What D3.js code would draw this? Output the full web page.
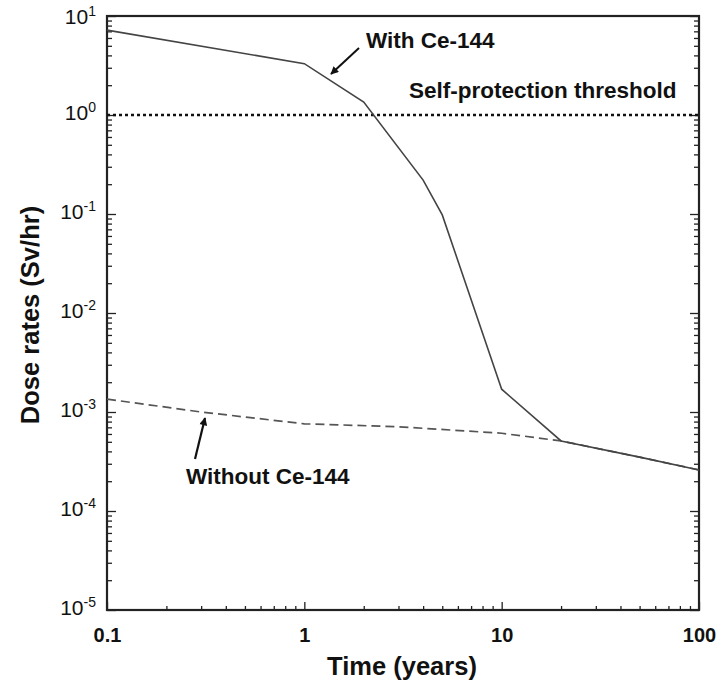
<!DOCTYPE html>
<html>
<head>
<meta charset="utf-8">
<script src="https://cdn.jsdelivr.net/npm/d3@7"></script>
<style>
  body { margin: 0; background: #fff; }
  svg { display: block; font-family: "Liberation Sans", Arial, Helvetica, sans-serif; }
</style>
</head>
<body>
<svg id="drawing_region"></svg>
<script>
// time (years) and dose rate (Sv/hr)
const timesWith = [0.1, 1, 2, 4, 5, 10, 20, 50, 100];
const doseWith = [7.2, 3.3, 1.35, 0.22, 0.098, 0.0017, 0.00051, 0.00035, 0.00026];

const timesWithout = [0.1, 0.3, 1, 3, 10, 20, 50, 100];
const doseWithout = [0.00135, 0.001, 0.00076, 0.00071, 0.00061, 0.00051, 0.00035, 0.00026];

const threshold = 1;

const xTicks = [0.1, 1, 10, 100];
const xTickLabels = ["0.1", "1", "10", "100"];
const yExponents = [1, 0, -1, -2, -3, -4, -5];

var config = {
    parent: '#drawing_region',
    width: 721,
    height: 682,
    margin: {top: 16, right: 22, bottom: 72, left: 107}
};

const svg = d3.select(config.parent)
    .attr('width', config.width)
    .attr('height', config.height);

const inner_width = config.width - config.margin.left - config.margin.right;
const inner_height = config.height - config.margin.top - config.margin.bottom;

const chart = svg.append('g')
    .attr('transform', `translate(${config.margin.left}, ${config.margin.top})`);

const xscale = d3.scaleLog().domain([0.1, 100]).range([0, inner_width]);
const yscale = d3.scaleLog().domain([1e-5, 10]).range([inner_height, 0]);

// minor ticks, 2..9 in each decade
const xMinor = [];
[0.1, 1, 10].forEach(d => { for (let k = 2; k < 10; k++) xMinor.push(d * k); });
const yMinor = [];
yExponents.slice(1).forEach(e => { for (let k = 2; k < 10; k++) yMinor.push(Math.pow(10, e) * k); });
const yMajor = yExponents.map(e => Math.pow(10, e));

const axisColor = '#222';

function styleAxis(g) {
    g.select('.domain').remove();
    g.selectAll('.tick line').attr('stroke', axisColor).attr('stroke-width', 1.3);
}

// bottom axis
chart.append('g')
    .attr('transform', `translate(0, ${inner_height})`)
    .call(d3.axisBottom(xscale).tickValues(xMinor).tickSize(-4).tickFormat(''))
    .call(styleAxis);

chart.append('g')
    .attr('transform', `translate(0, ${inner_height})`)
    .call(d3.axisBottom(xscale).tickValues(xTicks).tickSize(-8).tickPadding(18)
        .tickFormat((d, i) => xTickLabels[i]))
    .call(styleAxis)
    .call(g => g.selectAll('text')
        .attr('fill', '#111')
        .style('font-size', '20px')
        .style('font-weight', 'bold')
        .style('font-family', '"Liberation Sans", Arial, sans-serif'));

// left axis
chart.append('g')
    .call(d3.axisLeft(yscale).tickValues(yMinor).tickSize(-5).tickFormat(''))
    .call(styleAxis);

const yAxisG = chart.append('g')
    .call(d3.axisLeft(yscale).tickValues(yMajor).tickSize(-9).tickPadding(11).tickFormat(''))
    .call(styleAxis);

yAxisG.selectAll('.tick').each(function(d, i) {
    const t = d3.select(this).select('text')
        .attr('fill', '#111')
        .attr('y', i === 0 ? 3 : 0)
        .attr('dy', '0.45em')
        .style('font-family', '"Liberation Sans", Arial, sans-serif');
    t.append('tspan').style('font-size', '21px').text('10');
    t.append('tspan').style('font-size', '14px').attr('dy', '-0.55em').text(yExponents[i]);
});

// right axis
chart.append('g')
    .attr('transform', `translate(${inner_width}, 0)`)
    .call(d3.axisRight(yscale).tickValues(yMinor).tickSize(-5).tickFormat(''))
    .call(styleAxis);

chart.append('g')
    .attr('transform', `translate(${inner_width}, 0)`)
    .call(d3.axisRight(yscale).tickValues(yMajor).tickSize(-9).tickFormat(''))
    .call(styleAxis);

// frame
chart.append('rect')
    .attr('x', 0).attr('y', 0)
    .attr('width', inner_width).attr('height', inner_height)
    .attr('fill', 'none')
    .attr('stroke', axisColor)
    .attr('stroke-width', 2.2);

// threshold line
chart.append('line')
    .attr('x1', 0).attr('x2', inner_width)
    .attr('y1', yscale(threshold)).attr('y2', yscale(threshold))
    .attr('stroke', '#111')
    .attr('stroke-width', 2.6)
    .attr('stroke-dasharray', '3,3');

const line = d3.line()
    .x(d => xscale(d[0]))
    .y(d => yscale(d[1]));

chart.append('path')
    .datum(d3.zip(timesWithout, doseWithout))
    .attr('d', line)
    .attr('fill', 'none')
    .attr('stroke', '#555')
    .attr('stroke-width', 1.7)
    .attr('stroke-dasharray', '9,5');

chart.append('path')
    .datum(d3.zip(timesWith, doseWith))
    .attr('d', line)
    .attr('fill', 'none')
    .attr('stroke', '#444')
    .attr('stroke-width', 1.6);

// arrowhead
svg.append('defs').append('marker')
    .attr('id', 'arrow')
    .attr('viewBox', '0 0 10 10')
    .attr('refX', 9).attr('refY', 5)
    .attr('markerWidth', 11).attr('markerHeight', 8)
    .attr('markerUnits', 'userSpaceOnUse')
    .attr('orient', 'auto')
    .append('path')
    .attr('d', 'M0,0 L10,5 L0,10 Z')
    .attr('fill', '#111');

// annotations
const labelFont = '22.5px';

chart.append('text')
    .attr('x', 259).attr('y', 32)
    .style('font-size', labelFont).style('font-weight', 'bold')
    .attr('fill', '#111')
    .text('With Ce-144');

chart.append('line')
    .attr('x1', 252).attr('y1', 32)
    .attr('x2', 224).attr('y2', 58)
    .attr('stroke', '#111').attr('stroke-width', 2)
    .attr('marker-end', 'url(#arrow)');

chart.append('text')
    .attr('x', 302).attr('y', 82)
    .style('font-size', labelFont).style('font-weight', 'bold')
    .attr('fill', '#111')
    .text('Self-protection threshold');

chart.append('text')
    .attr('x', 79).attr('y', 468)
    .style('font-size', labelFont).style('font-weight', 'bold')
    .attr('fill', '#111')
    .text('Without Ce-144');

chart.append('line')
    .attr('x1', 88).attr('y1', 443)
    .attr('x2', 98).attr('y2', 402)
    .attr('stroke', '#111').attr('stroke-width', 2.2)
    .attr('marker-end', 'url(#arrow)');

// axis titles
svg.append('text')
    .attr('x', config.margin.left + inner_width / 2 - 1)
    .attr('y', 675)
    .style('text-anchor', 'middle')
    .style('font-size', '25.5px').style('font-weight', 'bold')
    .attr('fill', '#111')
    .text('Time (years)');

svg.append('text')
    .attr('transform', 'rotate(-90)')
    .attr('x', -315)
    .attr('y', 39)
    .style('text-anchor', 'middle')
    .style('font-size', '25.5px').style('font-weight', 'bold')
    .attr('fill', '#111')
    .text('Dose rates (Sv/hr)');
</script>
</body>
</html>
